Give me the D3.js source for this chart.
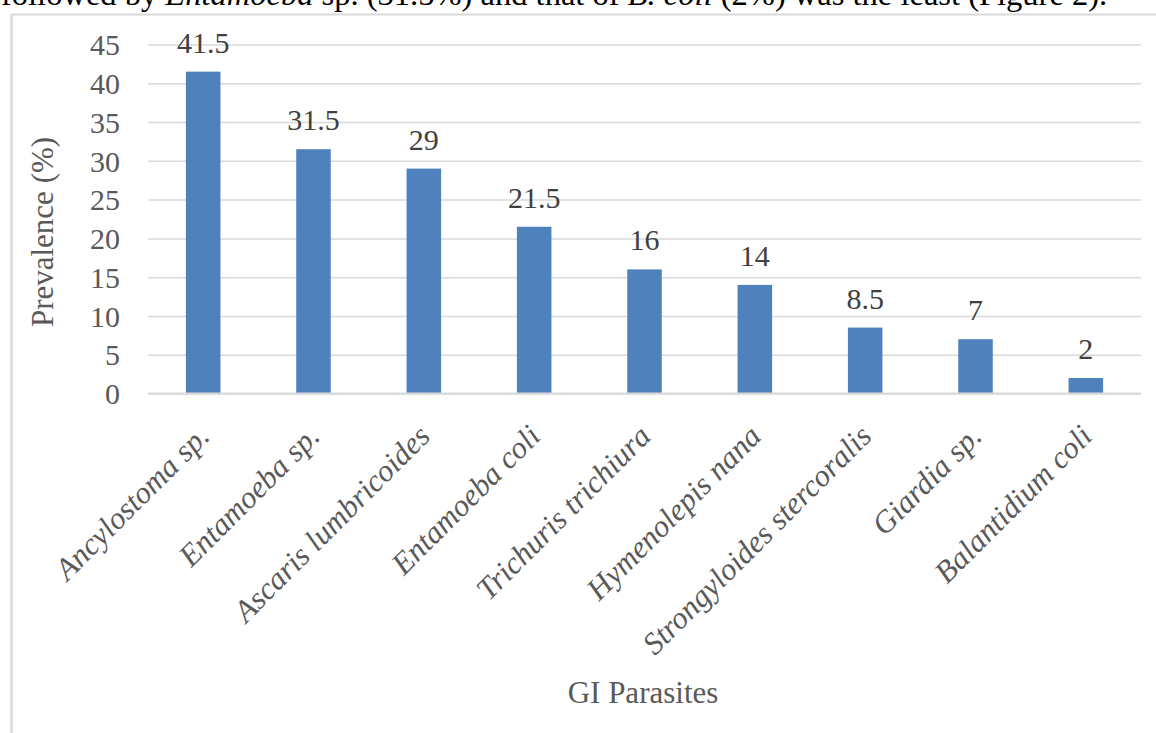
<!DOCTYPE html>
<html>
<head>
<meta charset="utf-8">
<script src="https://cdn.jsdelivr.net/npm/d3@7"></script>
<style>
  html, body { margin: 0; padding: 0; background: #fff; overflow: hidden; }
  svg { display: block; }
  text { font-family: "Liberation Serif", "Times New Roman", serif; }
</style>
</head>
<body>
<svg id="chart" width="1156" height="733"></svg>
<script>
// Prevalence of gastrointestinal parasites (%)
const categories = [
  "Ancylostoma sp.", "Entamoeba sp.", "Ascaris lumbricoides", "Entamoeba coli",
  "Trichuris trichiura", "Hymenolepis nana", "Strongyloides stercoralis",
  "Giardia sp.", "Balantidium coli"
];
const prevalence = [41.5, 31.5, 29, 21.5, 16, 14, 8.5, 7, 2];
const yTicks = [0, 5, 10, 15, 20, 25, 30, 35, 40, 45];
const yTitle = "Prevalence (%)";
const xTitle = "GI Parasites";

// Line of running text above the figure (partially cut off at the top edge)
const captionParts = [
  { t: "followed by ", italic: false },
  { t: "Entamoeba", italic: true },
  { t: " sp. (31.5%) and that of ", italic: false },
  { t: "B. coli", italic: true },
  { t: " (2%) was the least (Figure 2).", italic: false }
];

const svg = d3.select("#chart");
const plot = { left: 148, right: 1141, top: 44.5, bottom: 393.5 };
const grey = "#d9d9d9";
const textGrey = "#595959";
const fs = 30;

// Caption text, sized to run across the page width
const cap = svg.append("text").attr("x", 1).attr("y", 5)
  .attr("fill", "#000").style("font-size", "28px");
cap.selectAll("tspan").data(captionParts).join("tspan")
  .style("font-style", d => d.italic ? "italic" : "normal")
  .text(d => d.t);
const capW = cap.node().getComputedTextLength();
cap.style("font-size", (28 * 1107 / capW) + "px");

// Chart frame
svg.append("line").attr("x1", 11).attr("x2", 1160).attr("y1", 14.5).attr("y2", 14.5)
  .attr("stroke", grey).attr("stroke-width", 2);
svg.append("line").attr("x1", 11.5).attr("x2", 11.5).attr("y1", 14).attr("y2", 740)
  .attr("stroke", grey).attr("stroke-width", 2.5);

// Scales
const x = d3.scaleBand().domain(categories)
  .range([plot.left, plot.right]).paddingInner(0.687).paddingOuter(0.3435);
const y = d3.scaleLinear().domain([0, 45]).range([plot.bottom, plot.top]);

// Gridlines
const grid = svg.append("g").attr("transform", `translate(${plot.left},0)`)
  .call(d3.axisLeft(y).tickValues(yTicks).tickSize(-(plot.right - plot.left)).tickFormat(""));
grid.select(".domain").remove();
grid.selectAll(".tick line").attr("stroke", grey).attr("stroke-width", 1.5);

// Y axis labels
const yAxis = svg.append("g").attr("transform", `translate(${plot.left},0)`)
  .call(d3.axisLeft(y).tickValues(yTicks).tickSize(0).tickPadding(28));
yAxis.select(".domain").remove();
yAxis.selectAll("text").attr("fill", textGrey).style("font-size", fs + "px")
  .attr("dy", "0.34em");

// Bars
svg.append("g").selectAll("rect").data(prevalence).join("rect")
  .attr("x", (d, i) => x(categories[i]))
  .attr("width", x.bandwidth())
  .attr("y", d => y(d))
  .attr("height", d => y(0) - y(d))
  .attr("fill", "#4f81bd");

// Category axis line
svg.append("line").attr("x1", plot.left).attr("x2", plot.right)
  .attr("y1", y(0)).attr("y2", y(0)).attr("stroke", grey).attr("stroke-width", 2);

// Data labels
svg.append("g").selectAll("text").data(prevalence).join("text")
  .attr("x", (d, i) => x(categories[i]) + x.bandwidth() / 2)
  .attr("y", d => y(d) - 19)
  .attr("text-anchor", "middle")
  .attr("fill", "#404040")
  .style("font-size", fs + "px")
  .text(d => d);

// X axis labels (rotated)
const xAxis = svg.append("g").attr("transform", `translate(0,${plot.bottom})`)
  .call(d3.axisBottom(x).tickSize(0));
xAxis.select(".domain").remove();
xAxis.selectAll("text")
  .attr("x", 0).attr("y", 0).attr("dy", 0)
  .attr("transform", "translate(8,44.5) rotate(-45)")
  .attr("text-anchor", "end")
  .attr("fill", textGrey)
  .style("font-size", "31px")
  .style("font-style", "italic");

// Axis titles
svg.append("text")
  .attr("transform", "translate(53,232) rotate(-90)")
  .attr("text-anchor", "middle").attr("fill", textGrey)
  .style("font-size", "31px").text(yTitle);
svg.append("text")
  .attr("x", 643).attr("y", 703)
  .attr("text-anchor", "middle").attr("fill", textGrey)
  .style("font-size", "31px").text(xTitle);
</script>
</body>
</html>
